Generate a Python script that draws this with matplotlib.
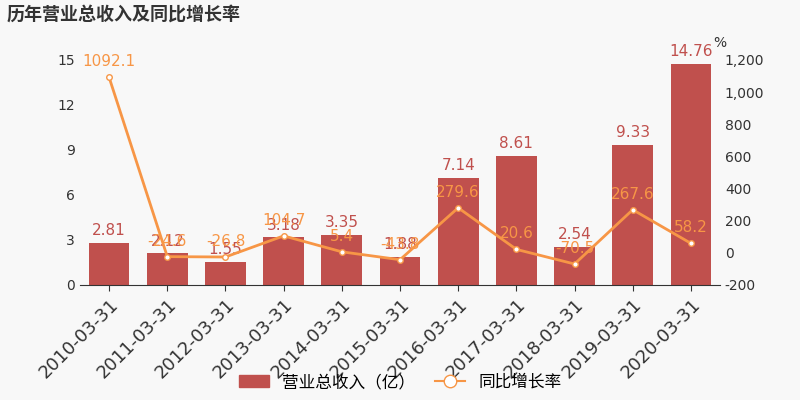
import matplotlib
matplotlib.use('Agg')
import matplotlib.pyplot as plt
from matplotlib.lines import Line2D
from matplotlib.patches import Patch

plt.rcParams['font.family'] = ['DejaVu Sans', 'Noto Sans CJK SC']
dates = ['2010-03-31','2011-03-31','2012-03-31','2013-03-31','2014-03-31','2015-03-31',
         '2016-03-31','2017-03-31','2018-03-31','2019-03-31','2020-03-31']
revenue = [2.81, 2.12, 1.55, 3.18, 3.35, 1.88, 7.14, 8.61, 2.54, 9.33, 14.76]
growth = [1092.1, -24.6, -26.8, 104.7, 5.4, -43.8, 279.6, 20.6, -70.5, 267.6, 58.2]

bar_c = '#c0504d'; line_c = '#f79646'
fig = plt.figure(figsize=(8, 4), dpi=100, facecolor='#f8f8f8')
ax = fig.add_axes([0.1, 0.288, 0.8, 0.562])
ax.set_facecolor('#f8f8f8')
x = list(range(len(dates)))
ax.bar(x, revenue, width=0.7, color=bar_c)
ax.set_ylim(0, 15); ax.set_yticks([0,3,6,9,12,15])
ax.set_xlim(-0.5, len(dates)-0.5)
ax.set_xticks(x); ax.set_xticklabels(dates, rotation=45, ha='right', rotation_mode='anchor', fontsize=13, color='#333')
for xi, v in zip(x, revenue):
    ax.text(xi, v+0.3, f'{v:.2f}', ha='center', va='bottom', color=bar_c, fontsize=11)
ax2 = ax.twinx()
ax2.plot(x, growth, color=line_c, lw=2, marker='o', ms=4, mfc='white', mec=line_c)
ax2.set_ylim(-200, 1200); ax2.set_yticks(range(-200, 1201, 200))
ax2.set_yticklabels([f'{v:,}' for v in range(-200, 1201, 200)])
for xi, v in zip(x, growth):
    ax2.text(xi, v+50, f'{v}', ha='center', va='bottom', color=line_c, fontsize=11)
ax2.text(1.0, 1.06, '%', transform=ax.transAxes, ha='center', fontsize=10, color='#333')
for a in (ax, ax2):
    for s in a.spines.values(): s.set_visible(False)
    a.tick_params(length=0, labelsize=10, colors='#333')
ax.spines['bottom'].set_visible(True); ax.spines['bottom'].set_color('#333')
ax.tick_params(axis='x', length=4, labelsize=13)
fig.text(0.008, 0.965, '历年营业总收入及同比增长率', fontsize=13, fontweight='bold', color='#333', va='center',
         family=['Noto Sans CJK SC', 'DejaVu Sans'])
handles = [Patch(color=bar_c), Line2D([], [], color=line_c, marker='o', mfc='white', ms=9)]
fig.legend(handles, ['营业总收入（亿）', '同比增长率'], loc='lower center', ncol=2,
           frameon=False, bbox_to_anchor=(0.5, -0.015), handlelength=1.8, columnspacing=1.2,
           prop={'family': ['Noto Sans CJK SC', 'DejaVu Sans'], 'size': 12})
fig.savefig('out.png', facecolor=fig.get_facecolor())
